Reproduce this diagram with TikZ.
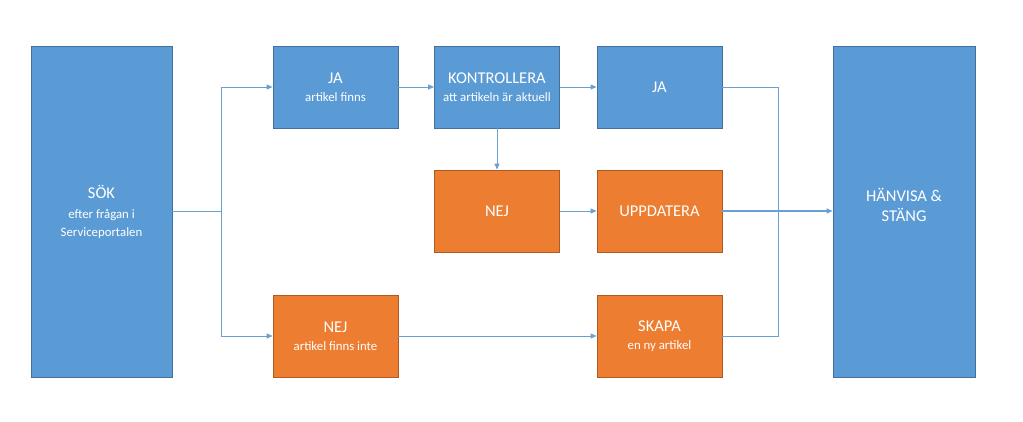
\documentclass[tikz,border=0pt]{standalone}
\usepackage{fontspec}
\setmainfont{Carlito}
\usetikzlibrary{arrows.meta,calc}

\definecolor{boxblue}{HTML}{5B9BD5}
\definecolor{boxblueline}{HTML}{41719C}
\definecolor{boxorange}{HTML}{ED7D31}
\definecolor{boxorangeline}{HTML}{AE5A21}
\definecolor{linkblue}{HTML}{6A9FD4}

\tikzset{
	stepblue/.style={draw=boxblueline, fill=boxblue, line width=0.8pt, text=white, align=center, inner sep=0pt, font=\fontsize{16.5}{20}\selectfont},
	steporange/.style={stepblue, draw=boxorangeline, fill=boxorange},
	small/.style={minimum width=125pt, minimum height=82pt},
	tall/.style={minimum width=141pt, minimum height=331pt},
	link/.style={draw=linkblue, line width=0.9pt},
}
\newcommand{\sub}[1]{{\fontsize{12.8}{15}\selectfont #1}}

\begin{document}
\begin{tikzpicture}[x=1pt, y=-1pt, >={Triangle[length=6pt,width=5pt]}]
	\useasboundingbox (0,0) rectangle (1023,422);
	\node[stepblue, tall] (sok) at (101.5,211.5) {SÖK\\[0pt]\sub{efter frågan i}\\[-2pt]\sub{Serviceportalen}};
	\node[stepblue, small] (jafinns) at (335.5,87) {JA\\[-2pt]\sub{artikel finns}};
	\node[stepblue, small] (kontroll) at (497,87) {KONTROLLERA\\[-2pt]\sub{att artikeln är aktuell}};
	\node[stepblue, small] (ja) at (659.5,87) {JA};
	\node[steporange, small] (nej) at (497,211) {NEJ};
	\node[steporange, small] (uppdatera) at (659.5,211) {UPPDATERA};
	\node[steporange, small] (nejfinns) at (335.5,336) {NEJ\\[-2pt]\sub{artikel finns inte}};
	\node[steporange, small] (skapa) at (659.5,336) {SKAPA\\[-2pt]\sub{en ny artikel}};
	\node[stepblue, tall, minimum width=142pt] (hanvisa) at (904,211.5) {HÄNVISA \&\\STÄNG\\[-7pt]};

	\coordinate (split) at (221,211);
	\coordinate (merge) at (778,211);

	\draw[link] (sok.east |- split) -- (split);
	\draw[link, ->] (split) |- (jafinns.west);
	\draw[link, ->] (split) |- (nejfinns.west);
	\draw[link, ->] (jafinns) -- (kontroll);
	\draw[link, ->] (kontroll) -- (ja);
	\draw[link, ->] (kontroll) -- (nej);
	\draw[link, ->] (nej) -- (uppdatera);
	\draw[link, ->] (nejfinns) -- (skapa);
	\draw[link] (ja.east) -| (merge);
	\draw[link] (skapa.east) -| (merge);
	\draw[link, line width=1.4pt, ->] (uppdatera.east) -- (hanvisa.west |- merge);
\end{tikzpicture}
\end{document}
